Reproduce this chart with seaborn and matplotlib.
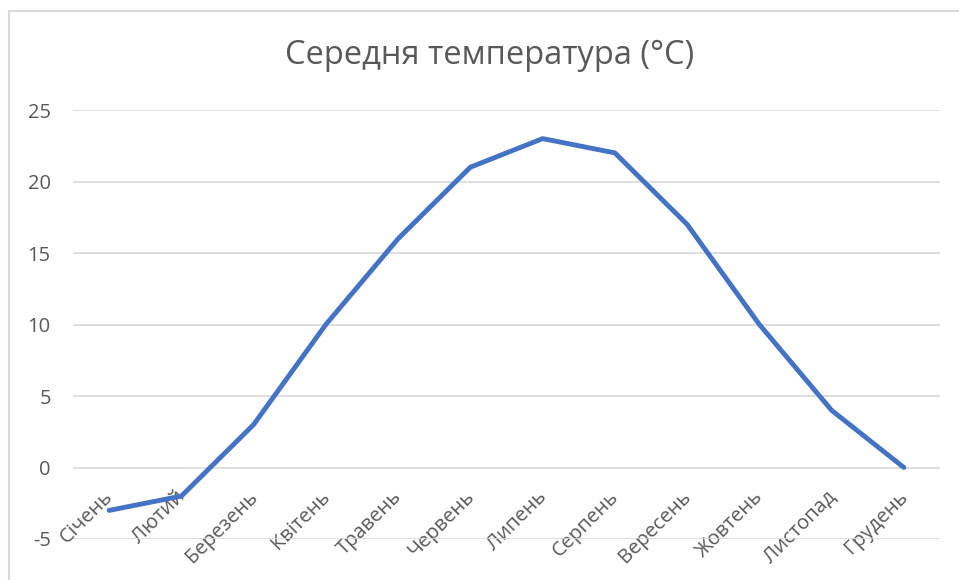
import numpy as np
import pandas as pd
import matplotlib.pyplot as plt
import matplotlib.transforms as mtransforms
import seaborn as sns
from matplotlib.lines import Line2D

# дані: середня температура по місяцях
months = ["Січень", "Лютий", "Березень", "Квітень", "Травень", "Червень",
          "Липень", "Серпень", "Вересень", "Жовтень", "Листопад", "Грудень"]
temps = [-3, -2, 3, 10, 16, 21, 23, 22, 17, 10, 4, 0]
y_ticks = [-5, 0, 5, 10, 15, 20, 25]

df = pd.DataFrame({"month": months, "temp": temps})

sns.set_theme(style="white")
plt.rcParams['font.family'] = ['Open Sans', 'DejaVu Sans']
plt.rcParams['axes.unicode_minus'] = False

fig = plt.figure(figsize=(9.59, 5.80), dpi=100)
ax = fig.add_axes([73 / 959, 1 - 539 / 580, 867 / 959, 429 / 580])

sns.lineplot(data=df, x="month", y="temp", sort=False, color="#4472C4",
             linewidth=3.5, ax=ax)

ax.set_xlim(-0.5, 11.5)
ax.set_ylim(-5, 25)
ax.set_yticks(y_ticks)
ax.grid(axis="y", color="#D9D9D9", linewidth=1.2)
ax.set_axisbelow(True)
for s in ax.spines.values():
    s.set_visible(False)
# підписи категорій біля нуля, як у Excel
ax.spines["bottom"].set_position(("data", 0))
ax.tick_params(axis="y", length=0, pad=16, labelsize=14.5, labelcolor="#595959")
ax.tick_params(axis="x", length=0, pad=14, labelsize=14.5, labelcolor="#595959")
ax.set_xticks(range(len(months)))
ax.set_xticklabels(months, rotation=45, ha="right", rotation_mode="anchor")
shift = mtransforms.ScaledTranslation(-6 / 100, 0, fig.dpi_scale_trans)
for lbl in ax.get_xticklabels():
    lbl.set_transform(lbl.get_transform() + shift)
ax.set_xlabel("")
ax.set_ylabel("")

fig.text(490 / 959, 1 - 55 / 580, "Середня температура (°C)", ha="center",
         va="center", fontsize=23.5, color="#595959")

# рамка діаграми
fig.add_artist(Line2D([9 / 959, 9 / 959], [0, 1 - 11 / 580], color="#D9D9D9", lw=1.5))
fig.add_artist(Line2D([9 / 959, 1], [1 - 11 / 580, 1 - 11 / 580], color="#D9D9D9", lw=1.5))

fig.savefig("out.png", dpi=100)
